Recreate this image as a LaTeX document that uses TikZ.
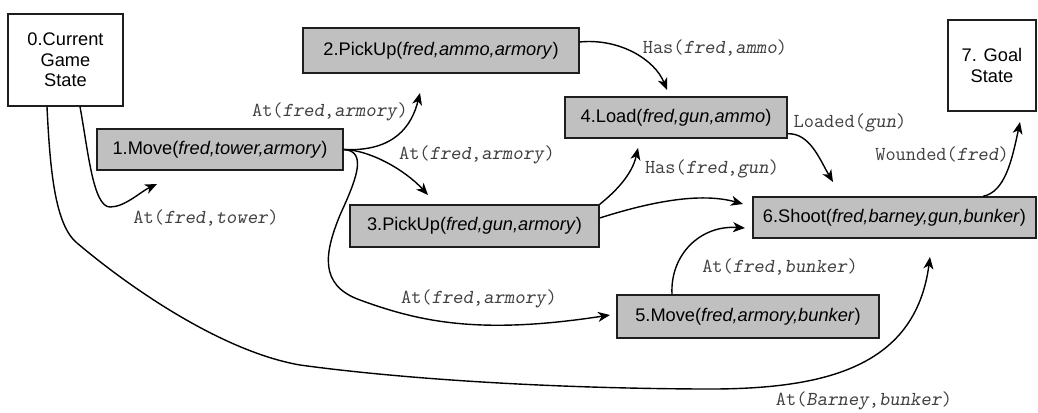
\documentclass[tikz,border=0pt]{standalone}
\usepackage{fontspec}
\setmainfont{Liberation Sans}
\usetikzlibrary{arrows.meta,calc}
\newcommand\bxfont{\fontsize{18.25}{20.5}\selectfont}
\newcommand\lbfont{\ttfamily\fontsize{19.8}{22}\selectfont}
\newcommand\vv[1]{\textsl{#1}}
\definecolor{boxgray}{RGB}{192,192,192}
\definecolor{edgeblk}{RGB}{30,30,30}
\begin{document}
\begin{tikzpicture}[x=1pt,y=-1pt,
  actbox/.style={draw=edgeblk,line width=1.4pt,fill=boxgray,inner sep=0pt,font=\bxfont,text=black},
  statebox/.style={draw=edgeblk,line width=1.4pt,fill=white,inner sep=0pt,font=\bxfont,align=center,text=black},
  conn/.style={draw=black,line width=1.4pt,-{Stealth[length=12pt,width=10pt,inset=3.5pt]}},
  lab/.style={font=\lbfont,text=black!75,inner sep=0pt}]
\useasboundingbox[fill=white] (0,0) rectangle (1038,412);

% nodes
\node[statebox,minimum width=115pt,minimum height=92pt] (n0) at (65.5,60) {0.Current\\Game\\State};
\node[actbox,minimum width=246pt,minimum height=41pt] (n1) at (220,149.5) {1.Move(\textit{fred,tower,armory})};
\node[actbox,minimum width=276pt,minimum height=45pt] (n2) at (441,50.5) {2.PickUp(\textit{fred,ammo,armory})};
\node[actbox,minimum width=249pt,minimum height=42pt] (n3) at (474.5,226) {3.PickUp(\textit{fred,gun,armory})};
\node[actbox,minimum width=222pt,minimum height=41pt] (n4) at (676,117.5) {4.Load(\textit{fred,gun,ammo})};
\node[actbox,minimum width=262pt,minimum height=43pt] (n5) at (748,316.5) {5.Move(\textit{fred,armory,bunker})};
\node[actbox,minimum width=283pt,minimum height=41pt] (n6) at (894.5,217.5) {6.Shoot(\textit{fred,barney,gun,bunker})};
\node[statebox,minimum width=88pt,minimum height=91pt] (n7) at (992,65.5) {7. Goal\\State};

% arrow tips (free ends)
\coordinate (t1) at (157,184);
\coordinate (t2) at (420,93);
\coordinate (t3) at (428,195);
\coordinate (t5) at (610,315);
\coordinate (t4a) at (667,90);
\coordinate (t4b) at (638,148);
\coordinate (t6a) at (743,204);
\coordinate (t6b) at (745,228);
\coordinate (t6c) at (833,182);
\coordinate (t6d) at (930,257);
\coordinate (t7) at (1020,122);

% connectors
\draw[conn] ($(n0.south)+(14.5,0)$) .. controls (88,150) and (93,207) .. (110,207)
   .. controls (125,207) and (140,192) .. (t1);
\draw[conn] ($(n0.south)+(-18.5,0)$) .. controls (50,170) and (55,225) .. (77,243)
   .. controls (135,292) and (225,352) .. (300,365)
   .. controls (380,376) and (520,388) .. (700,389)
   .. controls (820,390) and (915,370) .. (t6d);
\draw[conn] (n1.east) .. controls (395,152) and (412,125) .. (t2);
\draw[conn] (n1.east) .. controls (370,150) and (405,170) .. (t3);
\draw[conn] (n1.east) .. controls (368,151) and (356,180) .. (340,215)
   .. controls (325,252) and (318,285) .. (360,300)
   .. controls (420,322) and (480,335) .. (t5);
\draw[conn] ($(n2.east)+(0,-8.5)$) .. controls (620,38) and (655,60) .. (t4a);
\draw[conn] (n3.north east) .. controls (615,192) and (632,175) .. (t4b);
\draw[conn] ($(n3.east)+(0,-8)$) .. controls (650,202) and (700,192) .. (t6a);
\draw[conn] ($(n5.north)+(-76,0)$) .. controls (670,255) and (700,225) .. (t6b);
\draw[conn] ($(n4.south east)+(0,-5)$) .. controls (810,133) and (820,160) .. (t6c);
\draw[conn] ($(n6.north)+(88.5,0)$) .. controls (1005,192) and (1012,160) .. (t7);

% labels
\node[lab] (l1) at (206,218) {At(\vv{fred},\vv{tower})};
\node[lab] (l2) at (330,112) {At(\vv{fred},\vv{armory})};
\node[lab] (l3) at (477,155) {At(\vv{fred},\vv{armory})};
\node[lab] (l4) at (479,299) {At(\vv{fred},\vv{armory})};
\node[lab] (l5) at (715,48) {Has(\vv{fred},\vv{ammo})};
\node[lab] (l6) at (712,169) {Has(\vv{fred},\vv{gun})};
\node[lab] (l7) at (850,123) {Loaded(\vv{gun})};
\node[lab] (l8) at (942,154) {Wounded(\vv{fred})};
\node[lab] (l9) at (780,267) {At(\vv{fred},\vv{bunker})};
\node[lab,anchor=base] (l10) at (864,405) {At(\vv{Barney},\vv{bunker})};
\end{tikzpicture}
\end{document}
